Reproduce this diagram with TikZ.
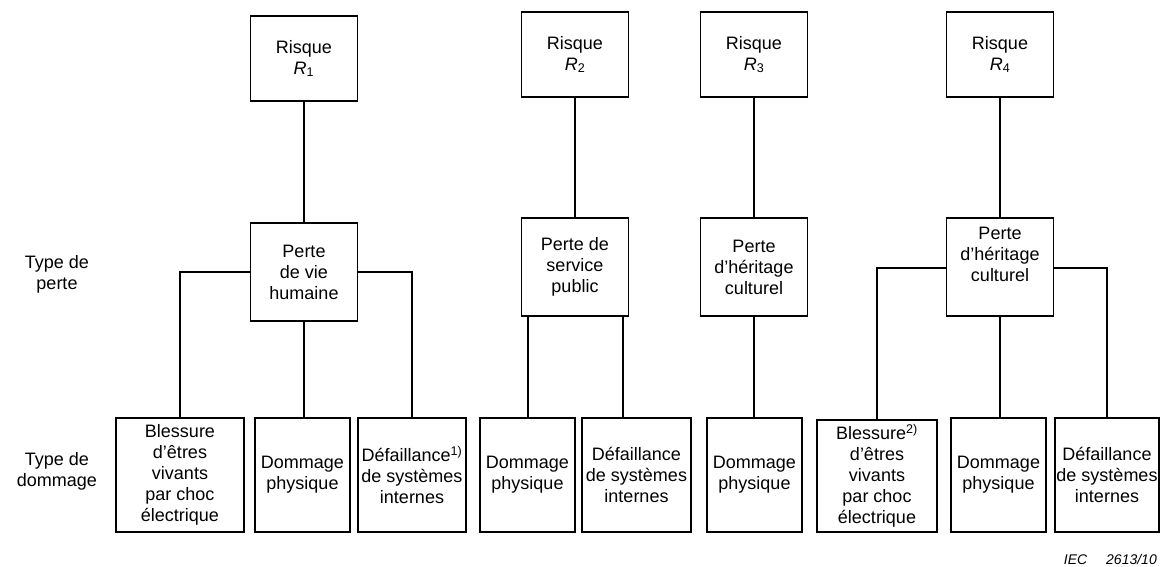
\documentclass[tikz,border=0pt]{standalone}
\usepackage{fontspec}
\setmainfont{Liberation Sans}
\begin{document}
\begin{tikzpicture}[x=1pt,y=-1pt,
  box/.style={draw, line width=1.8pt, inner sep=0pt, align=center, font=\fontsize{18}{21}\selectfont},
  topbox/.style={box, minimum width=107pt, minimum height=85pt},
  midbox/.style={box, minimum width=107pt, minimum height=98pt},
  botbox/.style={box, minimum height=114pt},
  link/.style={line width=1.7pt},
  lbl/.style={align=center, inner sep=0pt, font=\fontsize{18}{21}\selectfont}]
\useasboundingbox (0,0) rectangle (1163,567);
% top row
\node[topbox] (R1) at (304,58.5) {Risque\\\textit{R}\textsubscript{1}};
\node[topbox] (R2) at (575,54.5) {Risque\\\textit{R}\textsubscript{2}};
\node[topbox] (R3) at (754,54.5) {Risque\\\textit{R}\textsubscript{3}};
\node[topbox] (R4) at (1000,54.5) {Risque\\\textit{R}\textsubscript{4}};
% middle row
\node[midbox] (M1) at (304,272) {Perte\\de vie\\humaine};
\node[midbox] (M2) at (575,267) {Perte de\\service\\public};
\node[midbox] (M3) at (754,267) {Perte\\d’héritage\\culturel};
\node[midbox] (M4) at (1000,267) {Perte\\d’héritage\\culturel\\[4pt]};
% bottom row
\node[botbox, minimum width=128pt] (B1) at (180,475) {Blessure\\d’êtres\\vivants\\par choc\\électrique};
\node[botbox, minimum width=95pt] (B2) at (302.5,475) {Dommage\\physique};
\node[botbox, minimum width=108pt] (B3) at (412,475) {Défaillance\textsuperscript{1)}\\de systèmes\\internes};
\node[botbox, minimum width=95pt] (B4) at (527.5,475) {Dommage\\physique};
\node[botbox, minimum width=109pt] (B5) at (636.5,475) {Défaillance\\de systèmes\\internes};
\node[botbox, minimum width=95pt] (B6) at (754.5,475) {Dommage\\physique};
\node[botbox, minimum width=120pt, minimum height=112pt] (B7) at (877,476) {Blessure\textsuperscript{2)}\\d’êtres\\vivants\\par choc\\électrique};
\node[botbox, minimum width=95pt] (B8) at (998.5,475) {Dommage\\physique};
\node[botbox, minimum width=104pt] (B9) at (1107,475) {Défaillance\\de systèmes\\internes};
% row labels
\node[lbl] (tp) at (57,274) {Type de\\perte};
\node[lbl] (td) at (57,471) {Type de\\dommage};
\node[anchor=base east, inner sep=0pt, font=\itshape\fontsize{14}{16}\selectfont] (iec) at (1157,564) {IEC\hspace{19pt}2613/10};
% connectors top to middle
\draw[link] (R1.south) -- (R1.south |- M1.north);
\draw[link] (R2.south) -- (R2.south |- M2.north);
\draw[link] (R3.south) -- (R3.south |- M3.north);
\draw[link] (R4.south) -- (R4.south |- M4.north);
% R1 branches
\draw[link] (M1.west) -| (B1.north);
\draw[link] (M1.east) -| (B3.north);
\draw[link] (M1.south) -- (M1.south |- B2.north);
% R2 branches
\draw[link] ([xshift=7.5pt]M2.south west) -- ([xshift=7.5pt]M2.south west |- B4.north);
\draw[link] ([xshift=-6.5pt]M2.south east) -- ([xshift=-6.5pt]M2.south east |- B5.north);
% R3 branch
\draw[link] (M3.south) -- (M3.south |- B6.north);
% R4 branches
\draw[link] ([yshift=-1pt]M4.west) -| (B7.north);
\draw[link] ([yshift=-1pt]M4.east) -| (B9.north);
\draw[link] (M4.south) -- (M4.south |- B8.north);
\end{tikzpicture}
\end{document}
